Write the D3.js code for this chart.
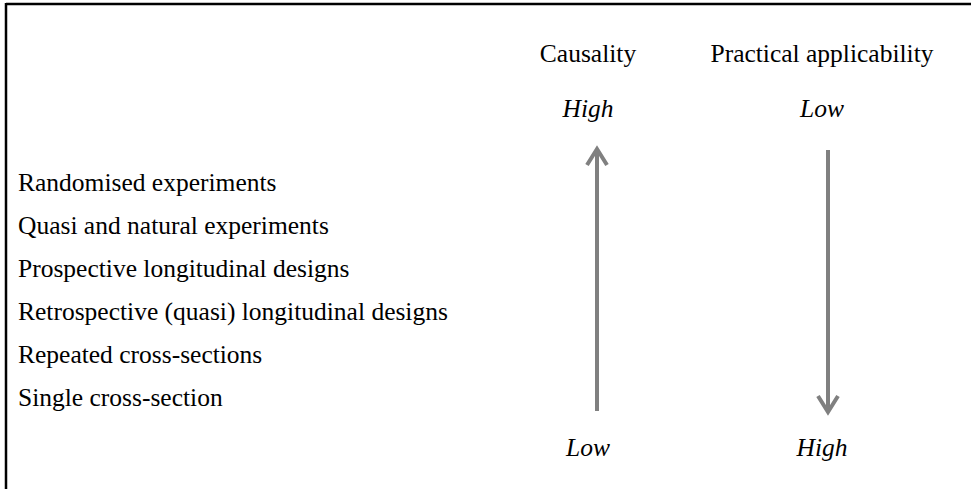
<!DOCTYPE html>
<html>
<head>
<meta charset="utf-8">
<script src="https://cdn.jsdelivr.net/npm/d3@7"></script>
<style>
  html, body { margin: 0; padding: 0; background: #fff; }
  svg { display: block; }
  text { font-family: "Liberation Serif", "Times New Roman", serif; fill: #000; }
</style>
</head>
<body>
<svg id="chart" width="971" height="489"></svg>
<script>
// ---- data ----
const designs = [
  "Randomised experiments",
  "Quasi and natural experiments",
  "Prospective longitudinal designs",
  "Retrospective (quasi) longitudinal designs",
  "Repeated cross-sections",
  "Single cross-section"
];
const dimensions = ["Causality", "Practical applicability"];
const topLabels = ["High", "Low"];
const bottomLabels = ["Low", "High"];
const directions = ["up", "down"];

// ---- layout ----
const W = 971, H = 489;
const svg = d3.select("#chart");
const fs = 25.5;

// frame: top and left edges
svg.append("line").attr("x1", 6).attr("x2", W).attr("y1", 4).attr("y2", 4)
  .attr("stroke", "#000").attr("stroke-width", 2.5);
svg.append("line").attr("x1", 6).attr("x2", 6).attr("y1", 3).attr("y2", H)
  .attr("stroke", "#000").attr("stroke-width", 2.5);

// rows
const y = d3.scalePoint().domain(designs).range([191, 406]);
svg.selectAll("text.design").data(designs).join("text")
  .attr("class", "design")
  .attr("x", 18)
  .attr("y", d => y(d))
  .attr("font-size", fs)
  .text(d => d);

// columns
const xText = d3.scalePoint().domain(dimensions).range([588, 822]);
const xArrow = d3.scalePoint().domain(dimensions).range([597, 828]);

svg.selectAll("text.dim").data(dimensions).join("text")
  .attr("class", "dim")
  .attr("x", d => xText(d))
  .attr("y", 62)
  .attr("text-anchor", "middle")
  .attr("font-size", fs)
  .text(d => d);

svg.selectAll("text.top").data(dimensions).join("text")
  .attr("class", "top")
  .attr("x", d => xText(d))
  .attr("y", 117)
  .attr("text-anchor", "middle")
  .attr("font-size", fs)
  .attr("font-style", "italic")
  .text((d, i) => topLabels[i]);

svg.selectAll("text.bottom").data(dimensions).join("text")
  .attr("class", "bottom")
  .attr("x", d => xText(d))
  .attr("y", 456)
  .attr("text-anchor", "middle")
  .attr("font-size", fs)
  .attr("font-style", "italic")
  .text((d, i) => bottomLabels[i]);

// arrows
const yTop = 148, yBot = 413, head = 17, half = 10;
const grey = "#808080";
dimensions.forEach((d, i) => {
  const x = xArrow(d);
  const g = svg.append("g");
  g.append("line").attr("x1", x).attr("x2", x).attr("y1", yTop + 2).attr("y2", yBot - 2)
    .attr("stroke", grey).attr("stroke-width", 4);
  let pts;
  if (directions[i] === "up") {
    pts = [[x - half, yTop + head], [x, yTop + 1], [x + half, yTop + head]];
  } else {
    pts = [[x - half, yBot - head], [x, yBot - 1], [x + half, yBot - head]];
  }
  g.append("path").attr("d", d3.line()(pts))
    .attr("fill", "none").attr("stroke", grey).attr("stroke-width", 4)
    .attr("stroke-linejoin", "miter").attr("stroke-linecap", "butt");
});
</script>
</body>
</html>
